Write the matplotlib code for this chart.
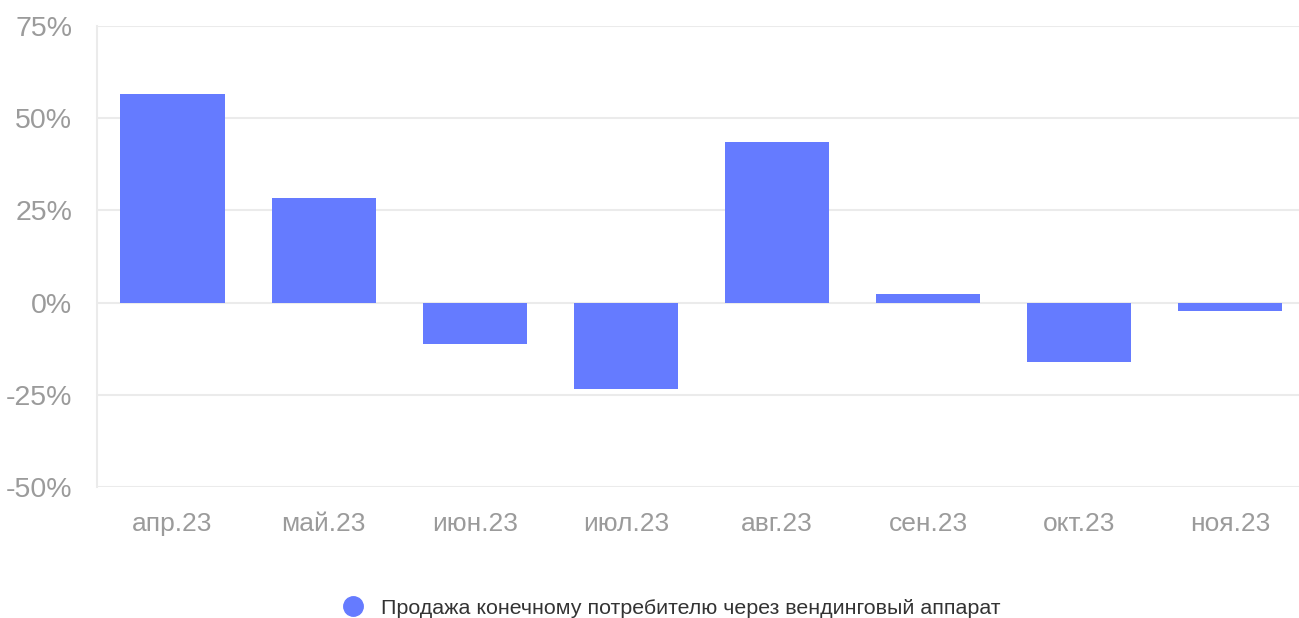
import matplotlib.pyplot as plt
from matplotlib.lines import Line2D
import numpy as np

# data
months = ['апр.23', 'май.23', 'июн.23', 'июл.23', 'авг.23', 'сен.23', 'окт.23', 'ноя.23']
change = [56.5, 28.3, -11.1, -23.4, 43.5, 2.2, -16.0, -2.4]
series_name = 'Продажа конечному потребителю через вендинговый аппарат'
yticks = [-50, -25, 0, 25, 50, 75]

plt.rcParams['font.family'] = ['Liberation Sans', 'DejaVu Sans']

bar_color = '#657bff'
grid_color = '#ebebeb'
tick_color = '#9b9b9b'

fig = plt.figure(figsize=(12.99, 6.18), dpi=100)
W, H = 1299, 618
ax = fig.add_axes([97 / W, 1 - 487 / H, 1 - 97 / W, (487 - 26) / H])

x = np.arange(len(months))
ax.bar(x, change, width=0.69, color=bar_color, zorder=3)

ax.set_ylim(-50, 75)
ax.set_xlim(-0.5, 7.455)
ax.set_yticks(yticks)
ax.set_yticklabels([f'{v}%' for v in yticks])
ax.set_xticks(x)
ax.set_xticklabels(months)

ax.grid(axis='y', color=grid_color, linewidth=1.5, zorder=0)
for s in ['top', 'right', 'bottom']:
    ax.spines[s].set_visible(False)
ax.spines['left'].set_color(grid_color)
ax.spines['left'].set_linewidth(1.5)

ax.tick_params(axis='y', length=0, labelsize=20.5, colors=tick_color, pad=18)
ax.tick_params(axis='x', length=0, labelsize=19, colors=tick_color, pad=18)

handle = Line2D([], [], marker='o', linestyle='', markersize=14,
                markerfacecolor=bar_color, markeredgecolor=bar_color)
fig.legend([handle], [series_name], loc='center', bbox_to_anchor=(666 / W, 1 - 608 / H),
           frameon=False, fontsize=15.4, labelcolor='#333333', handletextpad=0.3,
           borderaxespad=0, borderpad=0)

fig.savefig('out.png', dpi=100)
